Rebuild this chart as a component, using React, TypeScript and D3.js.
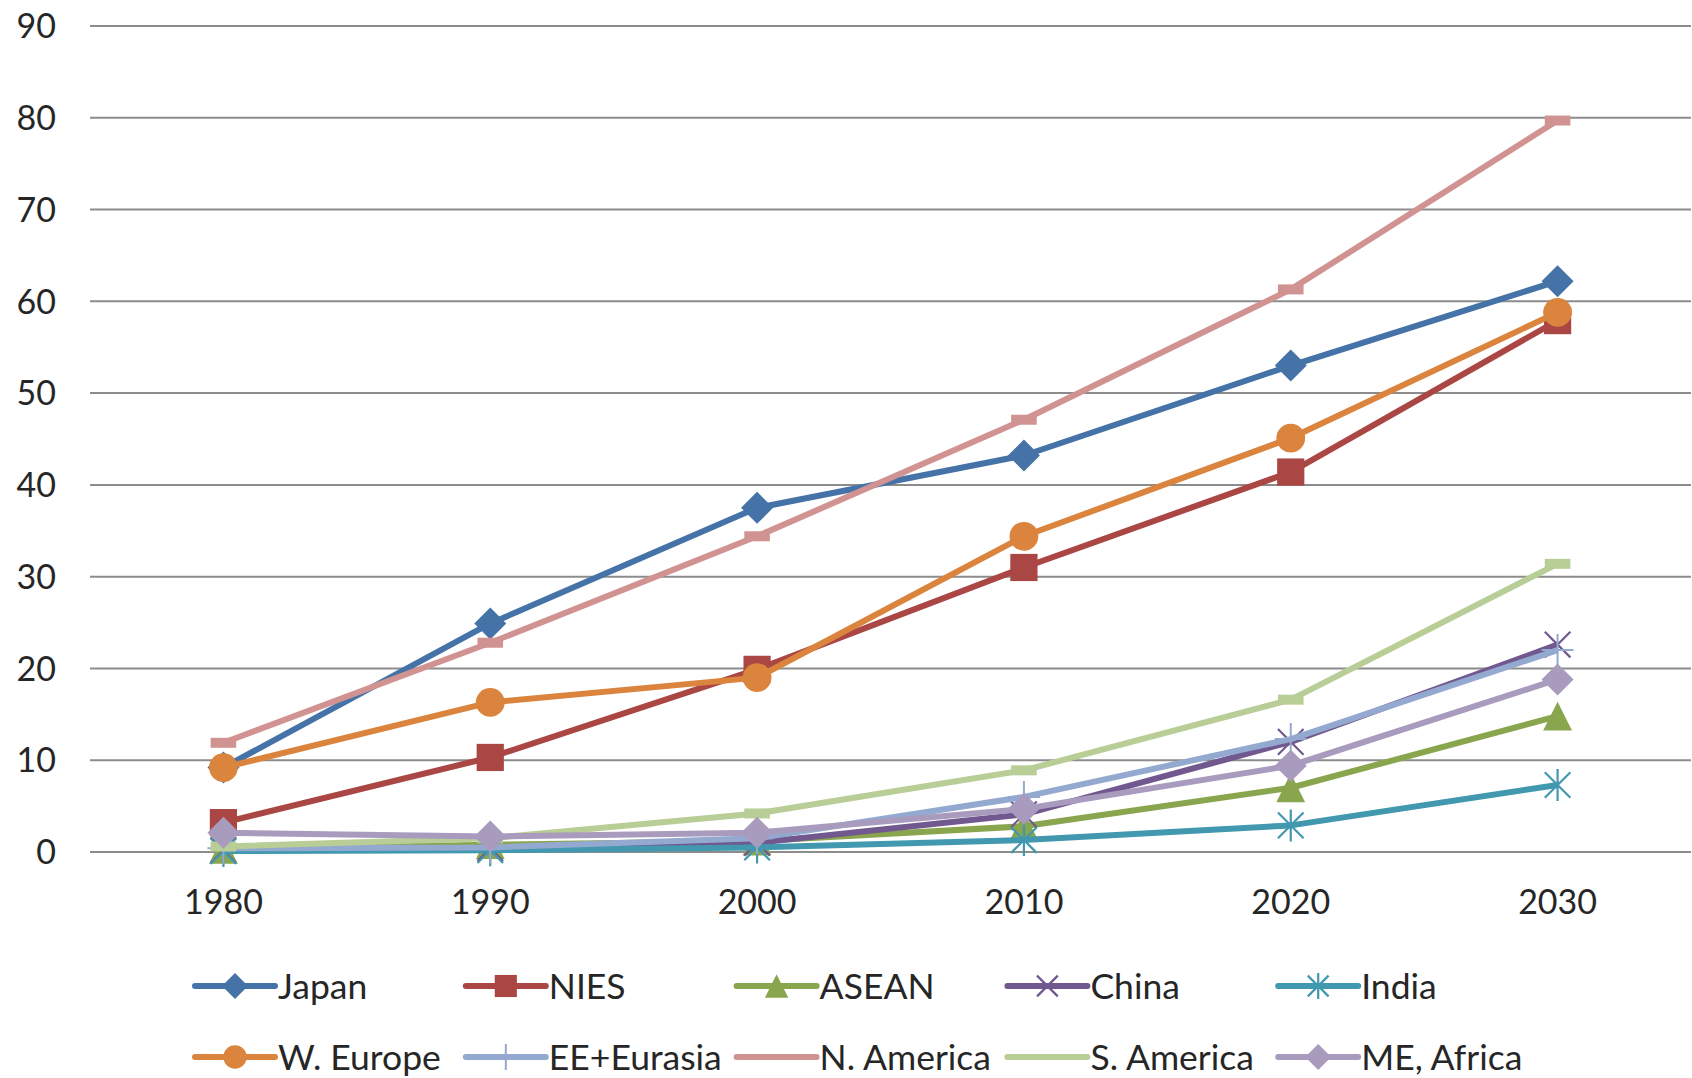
import React, { useEffect, useRef } from 'react';
import * as d3 from 'd3';

const years = ['1980', '1990', '2000', '2010', '2020', '2030'];
const yTicks = [0, 10, 20, 30, 40, 50, 60, 70, 80, 90];

const japan = [9.2, 24.9, 37.5, 43.2, 53.0, 62.2];
const nies = [3.2, 10.3, 19.9, 31.0, 41.4, 57.9];
const asean = [0.3, 0.8, 1.2, 2.8, 7.0, 14.8];
const china = [0.2, 0.4, 1.0, 4.1, 12.0, 22.6];
const india = [0.1, 0.2, 0.5, 1.3, 2.9, 7.3];
const wEurope = [9.2, 16.3, 19.0, 34.4, 45.1, 58.8];
const eeEurasia = [0.4, 0.5, 1.5, 6.0, 12.3, 22.0];
const nAmerica = [11.9, 22.8, 34.4, 47.1, 61.3, 79.7];
const sAmerica = [0.6, 1.5, 4.2, 8.9, 16.6, 31.4];
const meAfrica = [2.1, 1.7, 2.1, 4.7, 9.4, 18.8];

type Marker = 'diamond' | 'square' | 'triangle' | 'x' | 'star' | 'circle' | 'plus' | 'dash';

const series: { name: string; values: number[]; color: string; marker: Marker }[] = [
  { name: 'Japan', values: japan, color: '#4572A7', marker: 'diamond' },
  { name: 'NIES', values: nies, color: '#AA4643', marker: 'square' },
  { name: 'ASEAN', values: asean, color: '#89A54E', marker: 'triangle' },
  { name: 'China', values: china, color: '#71588F', marker: 'x' },
  { name: 'India', values: india, color: '#4198AF', marker: 'star' },
  { name: 'W. Europe', values: wEurope, color: '#DB843D', marker: 'circle' },
  { name: 'EE+Eurasia', values: eeEurasia, color: '#93A9CF', marker: 'plus' },
  { name: 'N. America', values: nAmerica, color: '#D19392', marker: 'dash' },
  { name: 'S. America', values: sAmerica, color: '#B9CD96', marker: 'dash' },
  { name: 'ME, Africa', values: meAfrica, color: '#A99BBD', marker: 'diamond' },
];

const W = 1692;
const H = 1078;
const FONT = 'Lato, "Open Sans", sans-serif';

function drawMarker(
  g: d3.Selection<SVGGElement, unknown, null, undefined>,
  kind: Marker,
  color: string,
  s: number,
  inLegend = false
) {
  if (kind === 'diamond') {
    g.append('path').attr('d', `M0,${-s}L${s},0L0,${s}L${-s},0Z`).attr('fill', color);
  } else if (kind === 'square') {
    const h = s * 0.85;
    g.append('rect').attr('x', -h).attr('y', -h).attr('width', 2 * h).attr('height', 2 * h).attr('fill', color);
  } else if (kind === 'triangle') {
    const h = s * 0.9;
    g.append('path').attr('d', `M0,${-h}L${h},${h}L${-h},${h}Z`).attr('fill', color);
  } else if (kind === 'circle') {
    g.append('circle').attr('r', s * 0.9).attr('fill', color);
  } else if (kind === 'x' || kind === 'star') {
    const h = s * 0.8;
    g.append('path')
      .attr('d', `M${-h},${-h}L${h},${h}M${h},${-h}L${-h},${h}` + (kind === 'star' ? `M0,${-s}L0,${s}` : ''))
      .attr('stroke', color)
      .attr('stroke-width', 2.2)
      .attr('fill', 'none');
  } else if (kind === 'plus') {
    g.append('path')
      .attr('d', `M${-s},0L${s},0M0,${-s}L0,${s}`)
      .attr('stroke', color)
      .attr('stroke-width', 2)
      .attr('fill', 'none');
  } else if (kind === 'dash' && !inLegend) {
    const w = s * 0.8;
    g.append('rect').attr('x', -w).attr('y', -5).attr('width', 2 * w).attr('height', 10).attr('fill', color);
  }
}

const App: React.FC = () => {
  const svgRef = useRef<SVGSVGElement | null>(null);

  useEffect(() => {
    if (!svgRef.current) return;
    const svg = d3.select(svgRef.current);
    svg.selectAll('*').remove();

    const left = 90;
    const right = 1691;
    const top = 26;
    const bottom = 852;

    const x = d3.scalePoint<string>().domain(years).range([left, right]).padding(0.5);
    const y = d3.scaleLinear().domain([0, 90]).range([bottom, top]);

    // gridlines
    svg.append('g')
      .selectAll('line')
      .data(yTicks)
      .join('line')
      .attr('x1', left)
      .attr('x2', right)
      .attr('y1', d => y(d))
      .attr('y2', d => y(d))
      .attr('stroke', '#8c8c8c')
      .attr('stroke-width', 2);

    // y labels
    svg.append('g')
      .selectAll('text')
      .data(yTicks)
      .join('text')
      .attr('x', 56)
      .attr('y', d => y(d))
      .attr('dy', '0.36em')
      .attr('text-anchor', 'end')
      .attr('font-family', FONT)
      .attr('font-size', 34)
      .attr('fill', '#262626')
      .text(d => d);

    // x labels
    svg.append('g')
      .selectAll('text')
      .data(years)
      .join('text')
      .attr('x', d => x(d) as number)
      .attr('y', 902)
      .attr('dy', '0.36em')
      .attr('text-anchor', 'middle')
      .attr('font-family', FONT)
      .attr('font-size', 34)
      .attr('fill', '#262626')
      .text(d => d);

    const line = d3.line<number>()
      .x((_, i) => x(years[i]) as number)
      .y(d => y(d));

    series.forEach(s => {
      const g = svg.append('g');
      g.append('path')
        .attr('d', line(s.values))
        .attr('fill', 'none')
        .attr('stroke', s.color)
        .attr('stroke-width', 6)
        .attr('stroke-linejoin', 'round');
      s.values.forEach((v, i) => {
        const mg = g.append('g').attr('transform', `translate(${x(years[i])},${y(v)})`);
        drawMarker(mg, s.marker, s.color, 16);
      });
    });

    // legend
    const legend = svg.append('g');
    series.forEach((s, i) => {
      const col = i % 5;
      const row = Math.floor(i / 5);
      const lx = 195 + col * 270.8;
      const ly = 986 + row * 71;
      const g = legend.append('g').attr('transform', `translate(${lx},${ly})`);
      g.append('line')
        .attr('x1', 0)
        .attr('x2', 80)
        .attr('stroke', s.color)
        .attr('stroke-width', 6)
        .attr('stroke-linecap', 'round');
      const mg = g.append('g').attr('transform', 'translate(40,0)');
      drawMarker(mg, s.marker, s.color, 13, true);
      g.append('text')
        .attr('x', 83)
        .attr('dy', '0.36em')
        .attr('font-family', FONT)
        .attr('font-size', 35.5)
        .attr('fill', '#262626')
        .text(s.name);
    });
  }, []);

  return (
    <svg
      ref={svgRef}
      width={W}
      height={H}
      style={{ position: 'absolute', left: 0, top: 0, background: '#fff' }}
    />
  );
};

export default App;
